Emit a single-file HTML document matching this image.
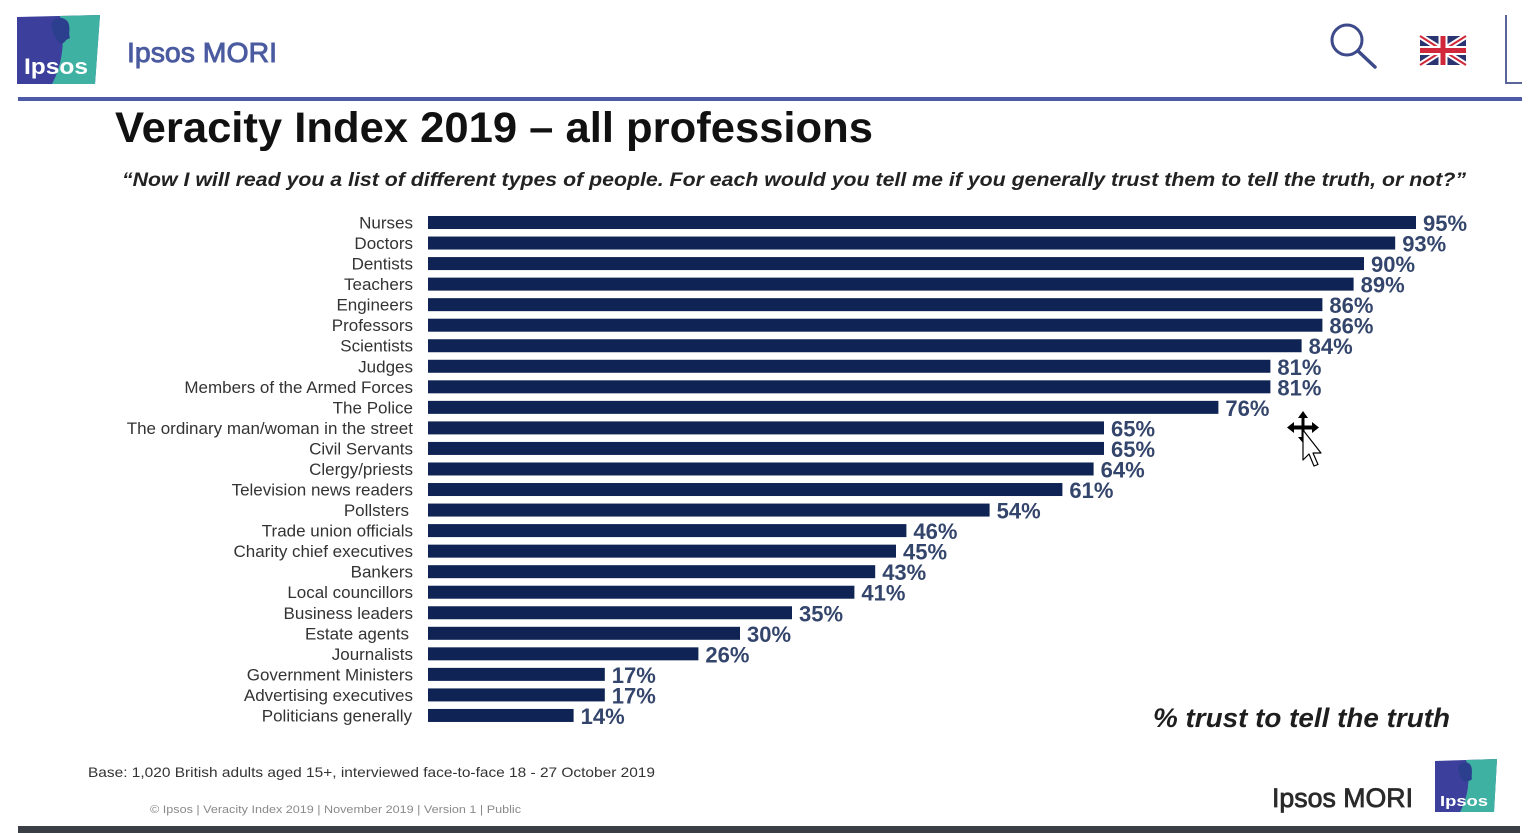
<!DOCTYPE html>
<html><head><meta charset="utf-8"><style>
html,body{margin:0;padding:0;background:#fff;}
svg{display:block;}
.lab{font-family:"Liberation Sans",Arial,sans-serif;font-size:17px;fill:#333;text-anchor:end;}
.val{font-family:"Liberation Sans",Arial,sans-serif;font-size:22px;font-weight:bold;fill:#34456c;}
.bar{fill:#0f2454;}
</style></head><body>
<svg width="1536" height="833" viewBox="0 0 1536 833" xmlns="http://www.w3.org/2000/svg">
<rect width="1536" height="833" fill="#fff"/>
<!-- top-left logo -->
<g>
<path d="M17 17 L100 15 L95 84 L17 84 Z" fill="#3c3f9c"/>
<path d="M60 16 L100 15 L95 84 L52 84 C62 66 66 40 60 16 Z" fill="#3fb1a3"/>
<path d="M52 22 C54 17 64 16 68 22 C71 28 68 33 70 38 L66 40 C64 44 60 44 58 42 C55 36 50 30 52 22 Z" fill="#2b3f8e"/>
<text x="24" y="74" font-family="Liberation Sans,Arial,sans-serif" font-size="22" font-weight="bold" fill="#fff" textLength="64" lengthAdjust="spacingAndGlyphs">Ipsos</text>
</g>
<text x="127" y="62" font-family="Liberation Sans,Arial,sans-serif" font-size="28" fill="#4b5ba0" stroke="#4b5ba0" stroke-width="0.9" textLength="150" lengthAdjust="spacingAndGlyphs">Ipsos MORI</text>
<!-- search icon -->
<circle cx="1347" cy="40" r="15" fill="none" stroke="#3d4a8a" stroke-width="3"/>
<line x1="1358" y1="51" x2="1375" y2="67" stroke="#3d4a8a" stroke-width="3.5" stroke-linecap="round"/>
<!-- flag -->
<g>
<rect x="1420" y="36" width="46" height="29" fill="#2a3470"/>
<path d="M1420 36 L1466 65 M1466 36 L1420 65" stroke="#fff" stroke-width="6"/>
<path d="M1420 36 L1466 65 M1466 36 L1420 65" stroke="#d0283a" stroke-width="2"/>
<path d="M1443 36 V65 M1420 50.5 H1466" stroke="#fff" stroke-width="9"/>
<path d="M1443 36 V65 M1420 50.5 H1466" stroke="#d0283a" stroke-width="5"/>
</g>
<path d="M1506 15 V83 H1522" fill="none" stroke="#5a6699" stroke-width="2"/>
<!-- header line -->
<rect x="18" y="97" width="1504" height="4" fill="#4d5aa8"/>
<!-- title -->
<text x="115" y="142" font-family="Liberation Sans,Arial,sans-serif" font-size="43" font-weight="bold" fill="#111" textLength="758" lengthAdjust="spacingAndGlyphs">Veracity Index 2019 – all professions</text>
<text x="122" y="186" font-family="Liberation Sans,Arial,sans-serif" font-size="19" font-weight="bold" font-style="italic" fill="#222" textLength="1344" lengthAdjust="spacingAndGlyphs">“Now I will read you a list of different types of people. For each would you tell me if you generally trust them to tell the truth, or not?”</text>

<!-- bars -->
<g>
<rect class="bar" x="428" y="216" width="988" height="13"/>
<rect class="bar" x="428" y="236.54" width="967.2" height="13"/>
<rect class="bar" x="428" y="257.08" width="936" height="13"/>
<rect class="bar" x="428" y="277.62" width="925.6" height="13"/>
<rect class="bar" x="428" y="298.16" width="894.4" height="13"/>
<rect class="bar" x="428" y="318.7" width="894.4" height="13"/>
<rect class="bar" x="428" y="339.24" width="873.6" height="13"/>
<rect class="bar" x="428" y="359.78" width="842.4" height="13"/>
<rect class="bar" x="428" y="380.32" width="842.4" height="13"/>
<rect class="bar" x="428" y="400.86" width="790.4" height="13"/>
<rect class="bar" x="428" y="421.4" width="676" height="13"/>
<rect class="bar" x="428" y="441.94" width="676" height="13"/>
<rect class="bar" x="428" y="462.48" width="665.6" height="13"/>
<rect class="bar" x="428" y="483.02" width="634.4" height="13"/>
<rect class="bar" x="428" y="503.56" width="561.6" height="13"/>
<rect class="bar" x="428" y="524.1" width="478.4" height="13"/>
<rect class="bar" x="428" y="544.64" width="468" height="13"/>
<rect class="bar" x="428" y="565.18" width="447.2" height="13"/>
<rect class="bar" x="428" y="585.72" width="426.4" height="13"/>
<rect class="bar" x="428" y="606.26" width="364" height="13"/>
<rect class="bar" x="428" y="626.8" width="312" height="13"/>
<rect class="bar" x="428" y="647.34" width="270.4" height="13"/>
<rect class="bar" x="428" y="667.88" width="176.8" height="13"/>
<rect class="bar" x="428" y="688.42" width="176.8" height="13"/>
<rect class="bar" x="428" y="708.96" width="145.6" height="13"/>
</g>
<!-- category labels -->
<g>
<text class="lab" x="413" y="228.5">Nurses</text>
<text class="lab" x="413" y="249.04">Doctors</text>
<text class="lab" x="413" y="269.58">Dentists</text>
<text class="lab" x="413" y="290.12">Teachers</text>
<text class="lab" x="413" y="310.66">Engineers</text>
<text class="lab" x="413" y="331.2">Professors</text>
<text class="lab" x="413" y="351.74">Scientists</text>
<text class="lab" x="413" y="372.28">Judges</text>
<text class="lab" x="413" y="392.82">Members of the Armed Forces</text>
<text class="lab" x="413" y="413.36">The Police</text>
<text class="lab" x="413" y="433.9">The ordinary man/woman in the street</text>
<text class="lab" x="413" y="454.44">Civil Servants</text>
<text class="lab" x="413" y="474.98">Clergy/priests</text>
<text class="lab" x="413" y="495.52">Television news readers</text>
<text class="lab" x="409" y="516.06">Pollsters</text>
<text class="lab" x="413" y="536.6">Trade union officials</text>
<text class="lab" x="413" y="557.14">Charity chief executives</text>
<text class="lab" x="413" y="577.68">Bankers</text>
<text class="lab" x="413" y="598.22">Local councillors</text>
<text class="lab" x="413" y="618.76">Business leaders</text>
<text class="lab" x="409" y="639.3">Estate agents</text>
<text class="lab" x="413" y="659.84">Journalists</text>
<text class="lab" x="413" y="680.38">Government Ministers</text>
<text class="lab" x="413" y="700.92">Advertising executives</text>
<text class="lab" x="412" y="721.46">Politicians generally</text>
</g>
<!-- value labels -->
<g>
<text class="val" x="1423" y="231">95%</text>
<text class="val" x="1402.2" y="251.54">93%</text>
<text class="val" x="1371" y="272.08">90%</text>
<text class="val" x="1360.6" y="292.62">89%</text>
<text class="val" x="1329.4" y="313.16">86%</text>
<text class="val" x="1329.4" y="333.7">86%</text>
<text class="val" x="1308.6" y="354.24">84%</text>
<text class="val" x="1277.4" y="374.78">81%</text>
<text class="val" x="1277.4" y="395.32">81%</text>
<text class="val" x="1225.4" y="415.86">76%</text>
<text class="val" x="1111" y="436.4">65%</text>
<text class="val" x="1111" y="456.94">65%</text>
<text class="val" x="1100.6" y="477.48">64%</text>
<text class="val" x="1069.4" y="498.02">61%</text>
<text class="val" x="996.6" y="518.56">54%</text>
<text class="val" x="913.4" y="539.1">46%</text>
<text class="val" x="903" y="559.64">45%</text>
<text class="val" x="882.2" y="580.18">43%</text>
<text class="val" x="861.4" y="600.72">41%</text>
<text class="val" x="799" y="621.26">35%</text>
<text class="val" x="747" y="641.8">30%</text>
<text class="val" x="705.4" y="662.34">26%</text>
<text class="val" x="611.8" y="682.88">17%</text>
<text class="val" x="611.8" y="703.42">17%</text>
<text class="val" x="580.6" y="723.96">14%</text>
</g>

<!-- cursor -->
<g>
<path d="M1303 411 L1298 418 L1301.5 418 L1301.5 425.5 L1294 425.5 L1294 422 L1287 427.5 L1294 433 L1294 429.5 L1301.5 429.5 L1301.5 437 L1298 437 L1303 443 L1308 437 L1304.5 437 L1304.5 429.5 L1312 429.5 L1312 433 L1319 427.5 L1312 422 L1312 425.5 L1304.5 425.5 L1304.5 418 L1308 418 Z" fill="#000"/>
<path d="M1303 430 L1303 460 L1309 454 L1314 466 L1318 464.5 L1313 453 L1321 453 Z" fill="#fff" stroke="#000" stroke-width="1.2" stroke-linejoin="round"/>
</g>

<!-- axis caption -->
<text x="1153" y="727" font-family="Liberation Sans,Arial,sans-serif" font-size="27" font-weight="bold" font-style="italic" fill="#1e1e1e" textLength="297" lengthAdjust="spacingAndGlyphs">% trust to tell the truth</text>

<!-- footer -->
<text x="88" y="777" font-family="Liberation Sans,Arial,sans-serif" font-size="14" fill="#333" textLength="567" lengthAdjust="spacingAndGlyphs">Base: 1,020 British adults aged 15+, interviewed  face-to-face  18 - 27 October 2019</text>
<text x="150" y="813" font-family="Liberation Sans,Arial,sans-serif" font-size="11" fill="#8a8a8a" textLength="371" lengthAdjust="spacingAndGlyphs">© Ipsos | Veracity Index 2019 | November 2019 | Version 1 | Public</text>
<text x="1272" y="807" font-family="Liberation Sans,Arial,sans-serif" font-size="27" fill="#2a2a2a" stroke="#2a2a2a" stroke-width="0.8" textLength="141" lengthAdjust="spacingAndGlyphs">Ipsos MORI</text>
<!-- bottom-right logo -->
<g>
<path d="M1435 761 L1497 759 L1494 812 L1435 812 Z" fill="#3c3f9c"/>
<path d="M1466 760 L1497 759 L1494 812 L1460 812 C1468 798 1471 778 1466 760 Z" fill="#3fb1a3"/>
<path d="M1459 766 C1461 761 1469 761 1471 766 C1473 771 1471 775 1472 779 C1469 782 1464 782 1462 780 C1460 776 1457 771 1459 766 Z" fill="#2b3f8e"/>
<text x="1440" y="806" font-family="Liberation Sans,Arial,sans-serif" font-size="15" font-weight="bold" fill="#fff" textLength="48" lengthAdjust="spacingAndGlyphs">Ipsos</text>
</g>
<!-- bottom dark strip -->
<rect x="18" y="826" width="1502" height="7" fill="#3a3e45"/>
</svg>
</body></html>
